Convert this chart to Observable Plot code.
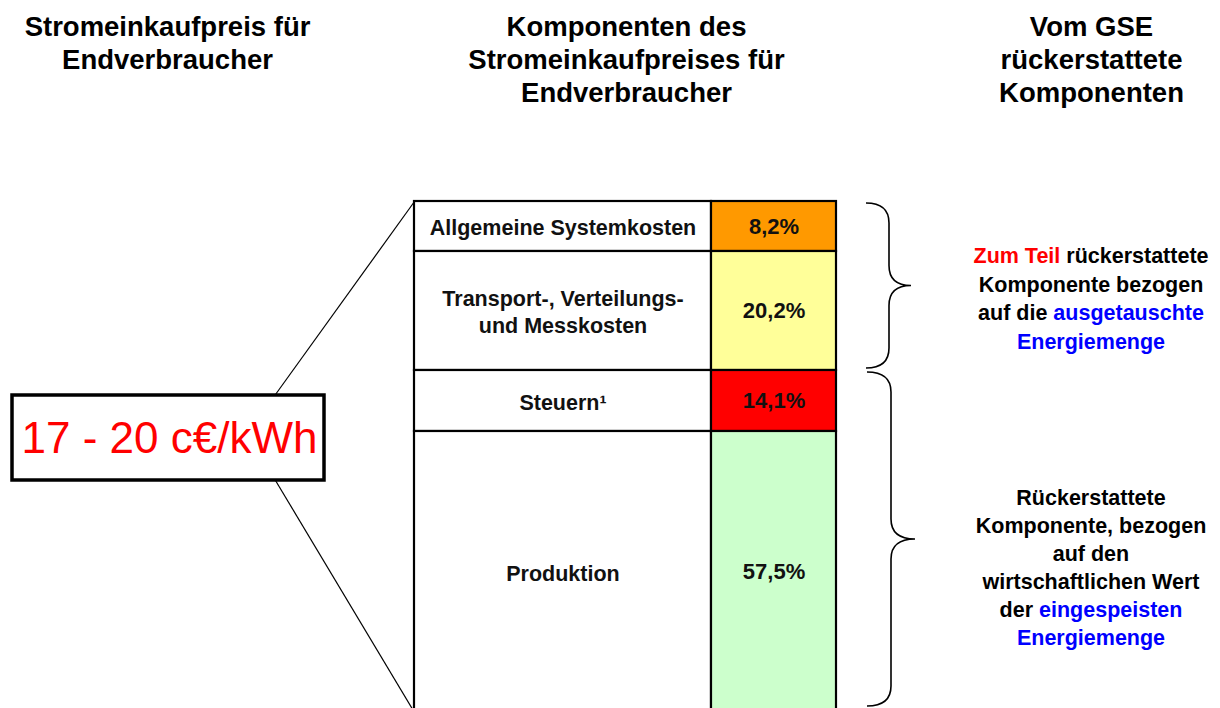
<!DOCTYPE html>
<html>
<head>
<meta charset="utf-8">
<script src="https://cdn.jsdelivr.net/npm/d3@7"></script>
<script src="https://cdn.jsdelivr.net/npm/@observablehq/plot@0.6"></script>
<style>
  html, body { margin: 0; padding: 0; background: #fff; }
  #chart svg { display: block; }
</style>
</head>
<body>
<div id="chart"></div>
<script>
// ---- data ----
const components = ["Allgemeine Systemkosten", "Transport-, Verteilungs-\nund Messkosten", "Steuern¹", "Produktion"];
const shares = [8.2, 20.2, 14.1, 57.5];
const shareLabels = ["8,2%", "20,2%", "14,1%", "57,5%"];
const titles = [
  "Stromeinkaufpreis für\nEndverbraucher",
  "Komponenten des\nStromeinkaufpreises für\nEndverbraucher",
  "Vom GSE\nrückerstattete\nKomponenten"
];
const priceLabel = "17 - 20 c€/kWh";
// annotation lines: [text, colourKey]
const noteTop = [
  [["Zum Teil", "r"], [" rückerstattete", "k"]],
  [["Komponente bezogen", "k"]],
  [["auf die ", "k"], ["ausgetauschte", "b"]],
  [["Energiemenge", "b"]]
];
const noteBottom = [
  [["Rückerstattete", "k"]],
  [["Komponente, bezogen", "k"]],
  [["auf den", "k"]],
  [["wirtschaftlichen Wert", "k"]],
  [["der ", "k"], ["eingespeisten", "b"]],
  [["Energiemenge", "b"]]
];
// groups covered by the braces (indices into components)
const braceGroups = [[0, 1], [2, 3]];

// ---- derived table ----
const ends = d3.cumsum(shares);
const rows = components.map((c, i) => ({
  name: c, share: shares[i], label: shareLabels[i],
  y1: i === 0 ? 0 : ends[i - 1], y2: ends[i]
}));
rows.forEach(r => r.ym = (r.y1 + r.y2) / 2);

// ---- layout (styling) ----
const FONT = "'Liberation Sans', Arial, sans-serif";
const yDomain = [0, ends[0], ends[1], ends[2], 100];
const yRange = [201, 251, 370, 431, 712];
const pxToY = d3.scaleLinear().domain(yRange).range(yDomain);
const colKey = {r: "#ff0000", b: "#0000ff", k: "#000000"};
const segColors = ["#ff9900", "#ffff99", "#ff0000", "#ccffcc"];

const titleOpts = {frameAnchor: "top", dy: 12.5, text: d => d, fontSize: 27.5, fontWeight: "bold", lineHeight: 1.2, fill: "black"};
const chart = Plot.plot({
  width: 1220, height: 708,
  margin: 0,
  style: {fontFamily: FONT, background: "white", overflow: "hidden"},
  x: {type: "linear", domain: [0, 1220], range: [0, 1220], axis: null},
  y: {type: "linear", domain: yDomain, range: yRange, clamp: false, axis: null},
  color: {domain: components, range: segColors},
  marks: [
    // titles
    Plot.text([titles[0]], {x: 167, ...titleOpts}),
    Plot.text([titles[1]], {x: 626, ...titleOpts}),
    Plot.text([titles[2]], {x: 1091, ...titleOpts}),
    // connector lines from the price box to the bar
    Plot.link([{a: pxToY(394), b: 0}, {a: pxToY(480), b: 100}], {x1: 275, y1: "a", x2: 414, y2: "b", stroke: "black", strokeWidth: 1.2}),
    // price box
    Plot.rect([priceLabel], {x1: 12, x2: 324, y1: pxToY(395), y2: pxToY(480), fill: "white", stroke: "black", strokeWidth: 3.5}),
    Plot.text([priceLabel], {x: 169, y: pxToY(438), text: d => d, fontSize: 44, fill: "#ff0000"}),
    // component table
    Plot.rect(rows, {x1: 414, x2: 711, y1: "y1", y2: "y2", fill: "white", stroke: "black", strokeWidth: 2.2}),
    Plot.rect(rows, {x1: 711, x2: 836, y1: "y1", y2: "y2", fill: "name", stroke: "black", strokeWidth: 2.2}),
    Plot.text(rows, {x: 562.5, y: "ym", text: "name", fontSize: 21.5, fontWeight: "bold", lineHeight: 1.27, fill: "#111"}),
    Plot.text(rows, {x: 773.5, y: "ym", text: "label", fontSize: 22, fontWeight: "bold", fill: "#111"})
  ]
});
document.getElementById("chart").appendChild(chart);

// ---- braces and multi-coloured notes (use the plot's y scale) ----
const ys = chart.scale("y");
const svg = d3.select(chart.tagName.toLowerCase() === "svg" ? chart : chart.querySelector("svg"));
function brace(yTop, yBot, x0, xv, xt, r) {
  const ym = (yTop + yBot) / 2;
  return `M${x0},${yTop} Q${xv},${yTop} ${xv},${yTop + r} L${xv},${ym - r} Q${xv},${ym} ${xt},${ym} Q${xv},${ym} ${xv},${ym + r} L${xv},${yBot - r} Q${xv},${yBot} ${x0},${yBot}`;
}
const braceX = [[866, 889, 911], [867, 891, 915]];
braceGroups.forEach((g, i) => {
  const top = ys.apply(rows[g[0]].y1) + 2;
  const bot = Math.min(ys.apply(rows[g[g.length - 1]].y2), 708) - 2;
  svg.append("path").attr("d", brace(top, bot, ...braceX[i], 20))
    .attr("fill", "none").attr("stroke", "black").attr("stroke-width", 1.6);
});
function note(lines, cx, cy, lh) {
  const t = svg.append("text").attr("text-anchor", "middle")
    .attr("font-family", FONT).attr("font-size", 21.5).attr("font-weight", "bold");
  const y0 = cy - (lines.length - 1) * lh / 2;
  lines.forEach((segs, i) => {
    const line = t.append("tspan").attr("x", cx).attr("y", y0 + i * lh).attr("dy", "0.35em");
    segs.forEach(([s, k]) => line.append("tspan").attr("fill", colKey[k]).text(s));
  });
}
note(noteTop, 1091, (ys.apply(rows[0].y1) + ys.apply(rows[1].y2)) / 2 + 13, 28.5);
note(noteBottom, 1091, 567, 28);
</script>
</body>
</html>
